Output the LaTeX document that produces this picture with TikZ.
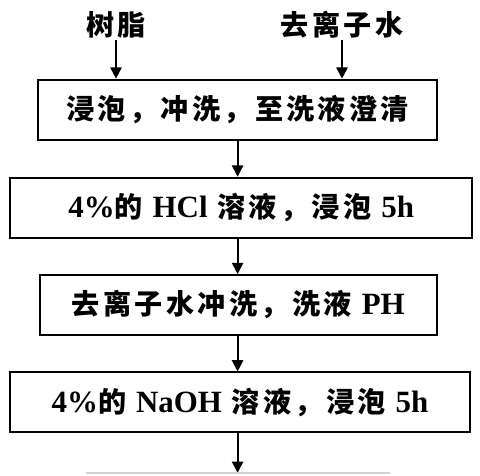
\documentclass[tikz,border=0pt]{standalone}
\usepackage{fontspec}
\setmainfont{Liberation Serif}
\newfontfamily\cjk[LetterSpace=12]{Noto Sans CJK SC}
\usetikzlibrary{arrows.meta}
\newcommand{\eng}[1]{{\fontspec{Liberation Serif}\fontsize{22}{24}\selectfont\bfseries #1}}

\begin{document}
\begin{tikzpicture}[
    box/.style={draw, line width=1.3pt, minimum height=1.5cm, inner sep=0pt},
    lbl/.style={inner sep=1pt},
    arr/.style={line width=1.3pt, -{Triangle[width=8pt,length=8pt]}},
    font=\cjk\bfseries\fontsize{20}{24}\selectfont
]
    \useasboundingbox (0,0) rectangle (12,-11.9);

    % Inputs
    \node[lbl] (resin) at (2.9,-0.625) {树脂};
    \node[lbl] (water) at (8.55,-0.625) {去离子水};

    % Process steps
    \node[box, minimum width=9.975cm] (soak) at (5.94,-2.74) {浸泡，冲洗，至洗液澄清};
    \node[box, minimum width=11.55cm] (acid) at (6.03,-5.19) {\eng{4\%}的 \eng{HCl} 溶液，浸泡 \eng{5h}};
    \node[box, minimum width=9.925cm] (rinse) at (5.96,-7.625) {去离子水冲洗，洗液 \eng{PH}};
    \node[box, minimum width=11.5cm] (base) at (6.0,-10.06) {\eng{4\%}的 \eng{NaOH} 溶液，浸泡 \eng{5h}};
    \coordinate (next) at (5.93,-11.82);

    % Arrows
    \draw[arr] (resin.south) -- (resin.south |- soak.north);
    \draw[arr] (water.south) -- (water.south |- soak.north);
    \draw[arr] (soak.south) -- (soak.south |- acid.north);
    \draw[arr] (soak.south |- acid.south) -- (soak.south |- rinse.north);
    \draw[arr] (soak.south |- rinse.south) -- (soak.south |- base.north);
    \draw[arr] (soak.south |- base.south) -- (soak.south |- next);

    % Edge of the next box (cut off)
    \draw[gray!35, line width=1pt] (2.15,-11.82) -- (9.75,-11.82);
\end{tikzpicture}
\end{document}
